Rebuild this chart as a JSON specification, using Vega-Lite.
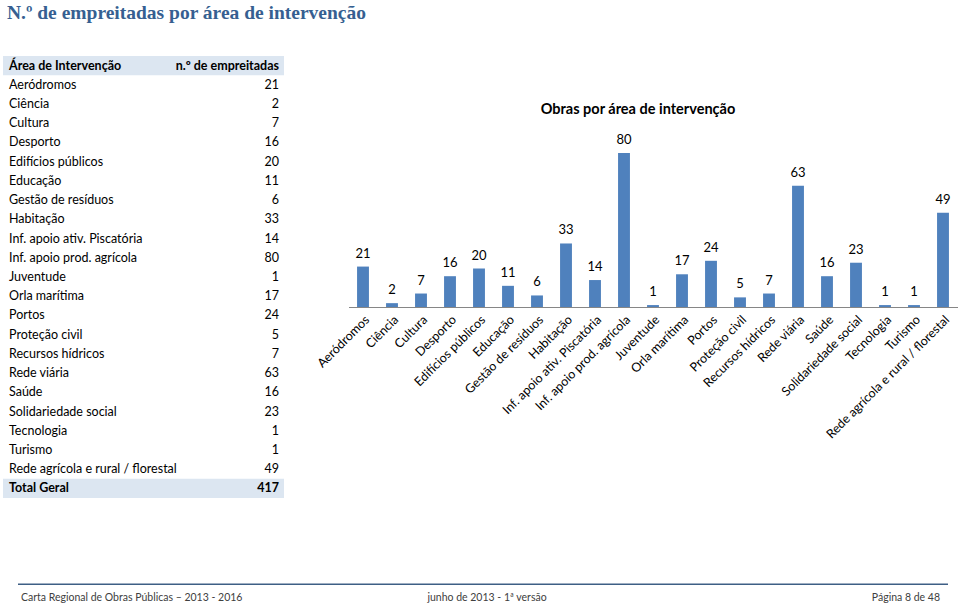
{
  "$schema": "https://vega.github.io/schema/vega-lite/v6.json",
  "width": 960,
  "height": 608,
  "autosize": "none",
  "padding": 0,
  "background": "white",
  "config": {"view": {"stroke": null}, "font": "Lato"},
  "datasets": {
    "obras": [
      {"area": "Aeródromos", "n": 21},
      {"area": "Ciência", "n": 2},
      {"area": "Cultura", "n": 7},
      {"area": "Desporto", "n": 16},
      {"area": "Edifícios públicos", "n": 20},
      {"area": "Educação", "n": 11},
      {"area": "Gestão de resíduos", "n": 6},
      {"area": "Habitação", "n": 33},
      {"area": "Inf. apoio ativ. Piscatória", "n": 14},
      {"area": "Inf. apoio prod. agrícola", "n": 80},
      {"area": "Juventude", "n": 1},
      {"area": "Orla marítima", "n": 17},
      {"area": "Portos", "n": 24},
      {"area": "Proteção civil", "n": 5},
      {"area": "Recursos hídricos", "n": 7},
      {"area": "Rede viária", "n": 63},
      {"area": "Saúde", "n": 16},
      {"area": "Solidariedade social", "n": 23},
      {"area": "Tecnologia", "n": 1},
      {"area": "Turismo", "n": 1},
      {"area": "Rede agrícola e rural / florestal", "n": 49}
    ],
    "extras": [
      {"area": "Área de Intervenção", "valor": "n.º de empreitadas"},
      {"area": "Total Geral", "valor": "417"}
    ],
    "one": [{}]
  },
  "resolve": {"scale": {"x": "independent", "y": "independent"}, "axis": {"x": "independent", "y": "independent"}},
  "layer": [
    {
      "layer": [
        {
          "data": {"name": "extras"},
          "mark": {"type": "rect", "x": 3, "x2": 284, "color": "#DCE6F1"},
          "encoding": {
            "y": {"field": "area", "type": "nominal", "axis": null,
              "scale": {"type": "band", "domain": ["Área de Intervenção", "Aeródromos", "Ciência", "Cultura", "Desporto", "Edifícios públicos", "Educação", "Gestão de resíduos", "Habitação", "Inf. apoio ativ. Piscatória", "Inf. apoio prod. agrícola", "Juventude", "Orla marítima", "Portos", "Proteção civil", "Recursos hídricos", "Rede viária", "Saúde", "Solidariedade social", "Tecnologia", "Turismo", "Rede agrícola e rural / florestal", "Total Geral"], "range": [56, 498], "paddingInner": 0, "paddingOuter": 0}}
          }
        },
        {
          "data": {"name": "extras"},
          "mark": {"type": "text", "x": 9, "align": "left", "baseline": "middle", "fontSize": 12.5, "fontWeight": "bold", "color": "#000000"},
          "encoding": {
            "y": {"field": "area", "type": "nominal", "axis": null},
            "text": {"field": "area"}
          }
        },
        {
          "data": {"name": "extras"},
          "mark": {"type": "text", "x": 279, "align": "right", "baseline": "middle", "fontSize": 12.5, "fontWeight": "bold", "color": "#000000"},
          "encoding": {
            "y": {"field": "area", "type": "nominal", "axis": null},
            "text": {"field": "valor"}
          }
        },
        {
          "data": {"name": "obras"},
          "mark": {"type": "text", "x": 9, "align": "left", "baseline": "middle", "fontSize": 12.5, "color": "#000000"},
          "encoding": {
            "y": {"field": "area", "type": "nominal", "axis": null},
            "text": {"field": "area"}
          }
        },
        {
          "data": {"name": "obras"},
          "mark": {"type": "text", "x": 279, "align": "right", "baseline": "middle", "fontSize": 12.5, "color": "#000000"},
          "encoding": {
            "y": {"field": "area", "type": "nominal", "axis": null},
            "text": {"field": "n"}
          }
        }
      ]
    },
    {
      "data": {"name": "obras"},
      "layer": [
        {
          "mark": {"type": "bar", "color": "#4F81BD"},
          "encoding": {
            "x": {"field": "area", "type": "nominal", "sort": null,
              "scale": {"range": [348.5, 957.5], "paddingInner": 0.59, "paddingOuter": 0.295},
              "axis": {"title": null, "orient": "bottom", "offset": -301, "labelAngle": -45, "ticks": false, "labelPadding": 6, "labelFont": "Lato", "labelFontSize": 12.5, "labelColor": "#000000", "domainColor": "#868686", "labelOverlap": false, "labelLimit": 300}},
            "y": {"field": "n", "type": "quantitative", "axis": null,
              "scale": {"domain": [0, 80], "range": [307, 153], "nice": false, "zero": true}}
          }
        },
        {
          "mark": {"type": "text", "baseline": "bottom", "dy": -6, "fontSize": 13, "color": "#000000"},
          "encoding": {
            "x": {"field": "area", "type": "nominal", "sort": null},
            "y": {"field": "n", "type": "quantitative"},
            "text": {"field": "n"}
          }
        }
      ]
    },
    {
      "data": {"name": "one"},
      "mark": {"type": "text", "text": "N.º de empreitadas por área de intervenção", "x": 7, "y": 19, "align": "left", "baseline": "alphabetic", "font": "Liberation Serif", "fontSize": 19.5, "fontWeight": "bold", "color": "#365F91"},
      "encoding": {}
    },
    {
      "data": {"name": "one"},
      "mark": {"type": "text", "text": "Obras por área de intervenção", "x": 638, "y": 110, "align": "center", "baseline": "middle", "fontSize": 14.5, "fontWeight": "bold", "color": "#000000"},
      "encoding": {}
    },
    {
      "data": {"name": "one"},
      "mark": {"type": "rect", "color": "#3E5F85"},
      "encoding": {
        "x": {"value": 18},
        "x2": {"value": 948},
        "y": {"value": 583.5},
        "y2": {"value": 585}
      }
    },
    {
      "data": {"name": "one"},
      "mark": {"type": "text", "text": "Carta Regional de Obras Públicas – 2013 - 2016", "x": 21, "y": 598, "align": "left", "baseline": "middle", "fontSize": 10.5, "color": "#404040"},
      "encoding": {}
    },
    {
      "data": {"name": "one"},
      "mark": {"type": "text", "text": "junho de 2013 - 1ª versão", "x": 487, "y": 598, "align": "center", "baseline": "middle", "fontSize": 10.5, "color": "#404040"},
      "encoding": {}
    },
    {
      "data": {"name": "one"},
      "mark": {"type": "text", "text": "Página 8 de 48", "x": 940, "y": 598, "align": "right", "baseline": "middle", "fontSize": 10.5, "color": "#404040"},
      "encoding": {}
    }
  ]
}
